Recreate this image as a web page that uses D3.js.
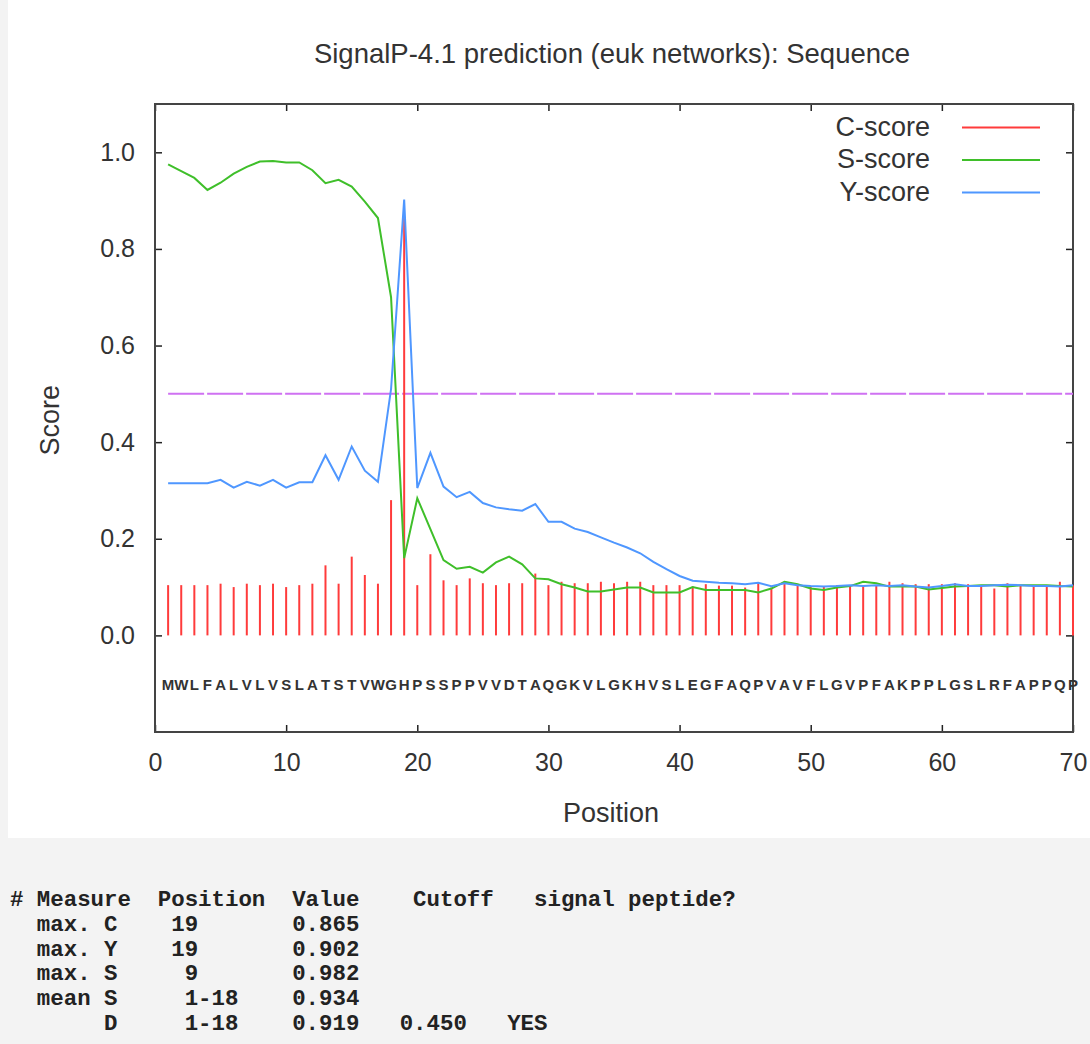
<!DOCTYPE html>
<html>
<head>
<meta charset="utf-8">
<title>SignalP-4.1 prediction</title>
<script src="https://cdn.jsdelivr.net/npm/d3@7"></script>
<style>
    body { margin: 0; background: #f3f3f3; }
    #chart { width: 1090px; height: 1044px; }
    text { font-family: "Liberation Sans", Arial, sans-serif; fill: #333; }
    .table-text { font-family: "Liberation Mono", "DejaVu Sans Mono", monospace; font-weight: bold; fill: #222; white-space: pre; }
</style>
</head>
<body>
<div id="chart"></div>
<script>

// sequence, one residue per position
const sequence = "MWLFALVLVSLATSTVWGHPSSPPVVDTAQGKVLGKHVSLEGFAQPVAVFLGVPFAKPPLGSLRFAPPQP".split("");

// C-score (raw cleavage site score) per position
const cScore = [
    0.104, 0.104, 0.104, 0.104, 0.107, 0.100, 0.107, 0.104, 0.107, 0.100,
    0.104, 0.107, 0.145, 0.107, 0.163, 0.125, 0.107, 0.280, 0.865, 0.104,
    0.168, 0.114, 0.104, 0.118, 0.108, 0.104, 0.108, 0.108, 0.128, 0.104,
    0.111, 0.108, 0.108, 0.111, 0.108, 0.111, 0.111, 0.104, 0.104, 0.104,
    0.101, 0.106, 0.103, 0.103, 0.099, 0.108, 0.099, 0.111, 0.103, 0.101,
    0.101, 0.104, 0.104, 0.104, 0.104, 0.111, 0.108, 0.106, 0.106, 0.106,
    0.108, 0.106, 0.104, 0.097, 0.108, 0.103, 0.103, 0.101, 0.111, 0.104
];

// S-score (signal peptide score)
const sScore = [
    0.975, 0.961, 0.947, 0.922, 0.937, 0.956, 0.970, 0.981, 0.982, 0.979,
    0.979, 0.963, 0.936, 0.943, 0.929, 0.898, 0.864, 0.700, 0.160, 0.284,
    0.220, 0.156, 0.138, 0.142, 0.130, 0.151, 0.163, 0.147, 0.118, 0.116,
    0.106, 0.099, 0.091, 0.091, 0.095, 0.099, 0.099, 0.089, 0.089, 0.089,
    0.100, 0.094, 0.094, 0.094, 0.094, 0.089, 0.097, 0.111, 0.106, 0.097,
    0.094, 0.099, 0.102, 0.111, 0.108, 0.101, 0.101, 0.101, 0.095, 0.098,
    0.101, 0.102, 0.104, 0.104, 0.101, 0.104, 0.104, 0.104, 0.102, 0.101
];

// Y-score (combined cleavage site score)
const yScore = [
    0.315, 0.315, 0.315, 0.315, 0.322, 0.306, 0.318, 0.310, 0.322, 0.306,
    0.317, 0.317, 0.373, 0.322, 0.391, 0.341, 0.318, 0.510, 0.902, 0.305,
    0.378, 0.308, 0.286, 0.297, 0.274, 0.265, 0.261, 0.258, 0.272, 0.235,
    0.235, 0.221, 0.214, 0.203, 0.192, 0.182, 0.170, 0.152, 0.137, 0.123,
    0.113, 0.111, 0.109, 0.108, 0.106, 0.109, 0.102, 0.108, 0.104, 0.102,
    0.101, 0.102, 0.104, 0.102, 0.104, 0.102, 0.104, 0.101, 0.099, 0.102,
    0.106, 0.102, 0.102, 0.104, 0.105, 0.104, 0.102, 0.102, 0.101, 0.104
];

const cutoffLine = 0.5;

const xTicks = [0, 10, 20, 30, 40, 50, 60, 70];
const yTicks = [0.0, 0.2, 0.4, 0.6, 0.8, 1.0];

const legendLabels = ["C-score", "S-score", "Y-score"];
const legendColors = ["#ff3b3b", "#3fbf2a", "#4f97ff"];

const titleText = "SignalP-4.1 prediction (euk networks): Sequence";

// summary table printed under the plot
const tableLines = [
    "# Measure  Position  Value    Cutoff   signal peptide?",
    "  max. C    19       0.865",
    "  max. Y    19       0.902",
    "  max. S     9       0.982",
    "  mean S     1-18    0.934",
    "       D     1-18    0.919   0.450   YES"
];


class SignalPVis {

    constructor(parentElement) {
        this.parentElement = parentElement;
        this.initVis();
    }

    initVis() {
        let vis = this;

        vis.totalWidth = 1090;
        vis.totalHeight = 1044;

        // plot frame (inner area)
        vis.margin = {top: 104, right: 17, bottom: 312, left: 155};
        vis.width = vis.totalWidth - vis.margin.left - vis.margin.right;
        vis.height = vis.totalHeight - vis.margin.top - vis.margin.bottom;

        vis.svg = d3.select("#" + vis.parentElement)
            .append("svg")
            .attr("width", vis.totalWidth)
            .attr("height", vis.totalHeight);

        // white picture area, grey page behind it
        vis.svg.append("rect")
            .attr("x", 8).attr("y", 0)
            .attr("width", vis.totalWidth - 8)
            .attr("height", 838)
            .attr("fill", "#ffffff");

        vis.g = vis.svg.append("g")
            .attr("transform", `translate(${vis.margin.left},${vis.margin.top})`);

        vis.x = d3.scaleLinear().domain([0, 70]).range([0, vis.width]);
        vis.y = d3.scaleLinear().domain([-0.2, 1.1]).range([vis.height, 0]);

        vis.drawAxes();
        vis.drawSeries();
        vis.drawLegend();
        vis.drawTable();
    }

    drawAxes() {
        let vis = this;

        let fmt = d3.format(".1f");

        let left = vis.g.append("g")
            .call(d3.axisLeft(vis.y).tickValues(yTicks).tickFormat(fmt).tickSize(-7).tickPadding(20));
        let right = vis.g.append("g")
            .attr("transform", `translate(${vis.width},0)`)
            .call(d3.axisRight(vis.y).tickValues(yTicks).tickFormat("").tickSize(-7));
        let bottom = vis.g.append("g")
            .attr("transform", `translate(0,${vis.height})`)
            .call(d3.axisBottom(vis.x).tickValues(xTicks).tickFormat(d3.format("d")).tickSize(-7).tickPadding(21));
        let top = vis.g.append("g")
            .call(d3.axisTop(vis.x).tickValues(xTicks).tickFormat("").tickSize(-7));

        [left, right, bottom, top].forEach(a => {
            a.select(".domain").remove();
            a.selectAll(".tick line").attr("stroke", "#222").attr("stroke-width", 1.5);
            a.selectAll(".tick text")
                .attr("fill", "#333")
                .style("font-size", "25px")
                .style("font-family", "'Liberation Sans', Arial, sans-serif");
        });

        // frame
        vis.g.append("rect")
            .attr("x", 0).attr("y", 0)
            .attr("width", vis.width).attr("height", vis.height)
            .attr("fill", "none")
            .attr("stroke", "#444")
            .attr("stroke-width", 2);

        // title and axis titles
        vis.svg.append("text")
            .attr("x", 612)
            .attr("y", 63)
            .attr("text-anchor", "middle")
            .style("font-size", "27.5px")
            .text(titleText);

        vis.svg.append("text")
            .attr("x", 611)
            .attr("y", 822)
            .attr("text-anchor", "middle")
            .style("font-size", "27px")
            .text("Position");

        vis.svg.append("text")
            .attr("transform", `translate(59,${vis.margin.top + vis.y(0.4) - 22}) rotate(-90)`)
            .attr("text-anchor", "middle")
            .style("font-size", "27px")
            .text("Score");
    }

    drawSeries() {
        let vis = this;

        let positions = d3.range(1, sequence.length + 1);

        // cutoff line
        vis.g.append("line")
            .attr("x1", vis.x(1))
            .attr("x2", vis.width)
            .attr("y1", vis.y(cutoffLine))
            .attr("y2", vis.y(cutoffLine))
            .attr("stroke", "#cf72f2")
            .attr("stroke-width", 2)
            .attr("stroke-dasharray", "36,3");

        // C-score as impulses
        vis.g.selectAll(".cBar")
            .data(cScore)
            .enter()
            .append("line")
            .attr("class", "cBar")
            .attr("x1", (d, i) => vis.x(positions[i]))
            .attr("x2", (d, i) => vis.x(positions[i]))
            .attr("y1", vis.y(0))
            .attr("y2", d => vis.y(d))
            .attr("stroke", legendColors[0])
            .attr("stroke-width", 2);

        let line = d3.line()
            .x((d, i) => vis.x(positions[i]))
            .y(d => vis.y(d));

        vis.g.append("path")
            .datum(sScore)
            .attr("d", line)
            .attr("fill", "none")
            .attr("stroke", legendColors[1])
            .attr("stroke-width", 2);

        vis.g.append("path")
            .datum(yScore)
            .attr("d", line)
            .attr("fill", "none")
            .attr("stroke", legendColors[2])
            .attr("stroke-width", 2);

        // residues under the zero line
        vis.g.selectAll(".residue")
            .data(sequence)
            .enter()
            .append("text")
            .attr("class", "residue")
            .attr("x", (d, i) => vis.x(positions[i]))
            .attr("y", vis.y(-0.1) + 6)
            .attr("text-anchor", "middle")
            .style("font-size", "15px")
            .style("font-weight", "bold")
            .attr("fill", "#3a3a3a")
            .text(d => d);
    }

    drawLegend() {
        let vis = this;

        let rowY = i => 127.5 + i * 32.5;

        vis.svg.selectAll(".legend-label")
            .data(legendLabels)
            .enter()
            .append("text")
            .attr("class", "legend-label")
            .attr("x", 930)
            .attr("y", (d, i) => rowY(i) + 8)
            .attr("text-anchor", "end")
            .style("font-size", "27px")
            .text(d => d);

        vis.svg.selectAll(".legend-line")
            .data(legendLabels)
            .enter()
            .append("line")
            .attr("class", "legend-line")
            .attr("x1", 962).attr("x2", 1040)
            .attr("y1", (d, i) => rowY(i))
            .attr("y2", (d, i) => rowY(i))
            .attr("stroke", (d, i) => legendColors[i])
            .attr("stroke-width", 2);
    }

    drawTable() {
        let vis = this;

        vis.svg.selectAll(".table-text")
            .data(tableLines)
            .enter()
            .append("text")
            .attr("class", "table-text")
            .attr("x", 10)
            .attr("y", (d, i) => 906 + i * 24.8)
            .style("font-size", "22.4px")
            .text(d => d);
    }
}

new SignalPVis("chart");

</script>
</body>
</html>
